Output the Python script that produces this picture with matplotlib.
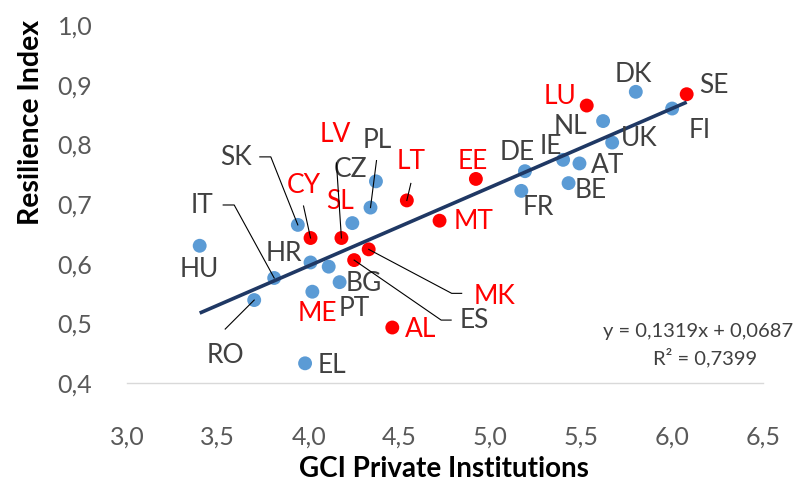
import matplotlib
matplotlib.use("Agg")
import matplotlib.pyplot as plt
from matplotlib.ticker import FuncFormatter, MultipleLocator
from matplotlib.lines import Line2D
from matplotlib.transforms import IdentityTransform

plt.rcParams['font.family'] = ['Lato', 'DejaVu Sans']

# data
countries = ["HU", "IT", "RO", "SK", "CY", "HR", "PT", "BG", "ME", "EL",
             "LV", "SL", "PL", "CZ", "LT", "MK", "ES", "AL", "MT", "EE",
             "DE", "FR", "IE", "AT", "BE", "UK", "NL", "LU", "DK", "SE", "FI"]
gci = [3.40, 3.81, 3.70, 3.94, 4.01, 4.01, 4.11, 4.17, 4.02, 3.98,
       4.18, 4.24, 4.34, 4.37, 4.54, 4.33, 4.25, 4.46, 4.72, 4.92,
       5.19, 5.17, 5.40, 5.49, 5.43, 5.67, 5.62, 5.53, 5.80, 6.08, 6.00]
resilience = [0.630, 0.576, 0.539, 0.665, 0.643, 0.602, 0.595, 0.569, 0.553, 0.433,
              0.643, 0.668, 0.694, 0.738, 0.706, 0.624, 0.606, 0.493, 0.672, 0.742,
              0.755, 0.722, 0.774, 0.768, 0.735, 0.803, 0.839, 0.865, 0.888, 0.884, 0.860]
red_dots = ["CY", "LV", "LT", "MK", "ES", "AL", "MT", "EE", "LU", "SE"]
red_labels = ["LU", "LV", "LT", "CY", "SL", "EE", "MT", "MK", "ME", "AL"]
slope, intercept, r2 = 0.1319, 0.0687, 0.7399

# label offsets from the dot, in pixels (x right, y down)
label_offsets = {
    "HU": (0, 24), "IT": (-72, -72), "RO": (-29, 55), "SK": (-62, -67),
    "CY": (-7, -53), "HR": (-27, -9), "PT": (26, 42), "BG": (24, 1),
    "ME": (5, 22), "EL": (27, 2), "LV": (-6, -104), "SL": (-12, -22),
    "PL": (7, -67), "CZ": (-25, -12), "LT": (4, -39), "MK": (126, 47),
    "ES": (120, 60), "AL": (28, 2), "MT": (34, 1), "EE": (-3, -17),
    "DE": (-8, -19), "FR": (17, 17), "IE": (-12, -13), "AT": (28, 2),
    "BE": (22, 7), "UK": (27, -4), "NL": (-33, 5), "LU": (-27, -9),
    "DK": (-2, -17), "SE": (27, -9), "FI": (28, 22),
}
# leader lines, vertices as pixel offsets from the dot
leaders = {
    "SK": [(-38, -68), (-27, -68), (0, 0)],
    "CY": [(-7, -32), (0, 0)],
    "LV": [(-5, -75), (0, 0)],
    "PL": [(6, -47), (0, 0)],
    "LT": [(4, -17), (0, 0)],
    "IT": [(-51, -73), (-40, -73), (0, 0)],
    "RO": [(-29, 29), (0, 0)],
    "MK": [(0, 0), (83, 44), (93, 44)],
    "ES": [(0, 0), (87, 60), (97, 60)],
}

W, H = 805, 484
fig = plt.figure(figsize=(W / 100, H / 100), dpi=100)
ax = fig.add_axes([127 / W, 1 - 383 / H, (763 - 127) / W, (383 - 25) / H])

ax.set_xlim(3.0, 6.5)
ax.set_ylim(0.4, 1.0)
ax.xaxis.set_major_locator(MultipleLocator(0.5))
ax.yaxis.set_major_locator(MultipleLocator(0.1))
comma = FuncFormatter(lambda v, p: f"{v:.1f}".replace(".", ","))
ax.xaxis.set_major_formatter(comma)
ax.yaxis.set_major_formatter(comma)
ax.tick_params(axis='both', length=0, labelsize=18, labelcolor='#595959')
ax.tick_params(axis='x', pad=31)
ax.tick_params(axis='y', pad=25)
for side in ["top", "right", "left"]:
    ax.spines[side].set_visible(False)
ax.spines["bottom"].set_color('#D9D9D9')
ax.spines["bottom"].set_linewidth(1)

dot_colors = ['#FF0000' if c in red_dots else '#5B9BD5' for c in countries]
ax.scatter(gci, resilience, s=100, c=dot_colors, linewidths=0, zorder=3, clip_on=False)

# trendline
x0, x1 = min(gci), max(gci)
ax.plot([x0, x1], [slope * x0 + intercept, slope * x1 + intercept],
        color='#1F3864', lw=2.6, solid_capstyle='butt', zorder=4)

# leader lines
for name, verts in leaders.items():
    i = countries.index(name)
    px, py = ax.transData.transform((gci[i], resilience[i]))
    xs = [px + dx for dx, dy in verts]
    ys = [py - dy for dx, dy in verts]
    fig.add_artist(Line2D(xs, ys, transform=IdentityTransform(), color='black', lw=0.8, zorder=2))

# labels
for name, x, y in zip(countries, gci, resilience):
    dx, dy = label_offsets[name]
    col = '#FF0000' if name in red_labels else '#404040'
    ax.annotate(name, (x, y), xytext=(dx, -dy), textcoords='offset pixels',
                ha='center', va='center', fontsize=19, color=col, zorder=5)

fig.text(698 / W, 1 - 332 / H, f"y = {slope:.4f}x + {intercept:.4f}".replace(".", ","),
         ha='center', va='center', fontsize=14.5, color='#404040')
fig.text(705 / W, 1 - 358 / H, f"R² = {r2:.4f}".replace(".", ","),
         ha='center', va='center', fontsize=14.5, color='#404040')

fig.text(31 / W, 1 - 122 / H, "Resilience Index", rotation=90, ha='center', va='center',
         fontsize=20.5, fontweight='bold', color='black')
fig.text(444 / W, 1 - 469 / H, "GCI Private Institutions", ha='center', va='center',
         fontsize=20, fontweight='bold', color='black')

fig.savefig("out.png", dpi=100)
